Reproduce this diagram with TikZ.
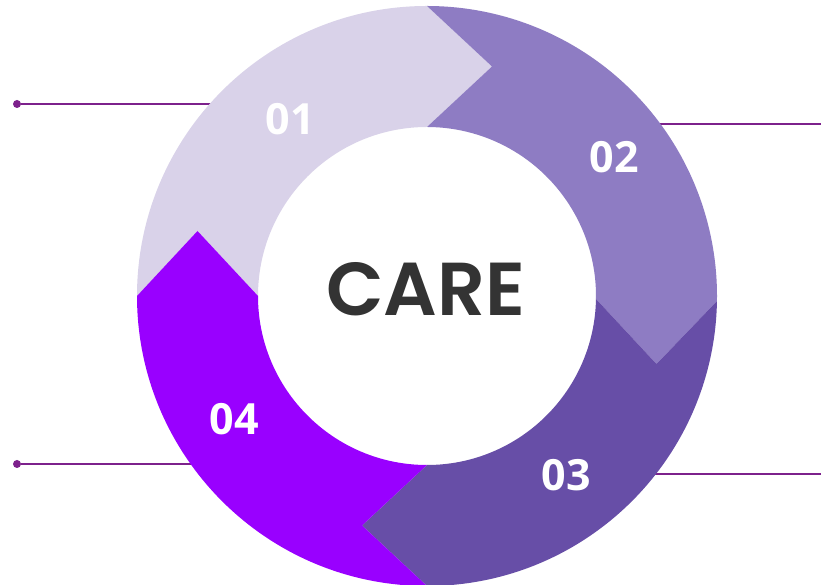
\documentclass[tikz,border=0pt]{standalone}
\usepackage{fontspec}
\setmainfont{Open Sans}
\newfontfamily\carefont{Poppins}[UprightFont={* SemiBold}]
\usetikzlibrary{calc}
\usetikzlibrary{positioning}
\definecolor{stepOne}{HTML}{D9D2E9}
\definecolor{stepTwo}{HTML}{8E7CC3}
\definecolor{stepThree}{HTML}{674EA7}
\definecolor{stepFour}{HTML}{9900FF}
\definecolor{leaderColor}{RGB}{125,33,140}
\definecolor{careColor}{HTML}{333333}

\begin{document}
\begin{tikzpicture}[x=1pt,y=1pt]
			\tikzstyle{leaderLine}=[draw=leaderColor, line width=1.8pt]
			\tikzstyle{leaderDot}=[circle, fill=leaderColor, inner sep=0pt, minimum size=8pt]
			\tikzstyle{stepLabel}=[text=white, anchor=base, font=\fontsize{43}{43}\selectfont\bfseries]
			\useasboundingbox[fill=white] (0,0) rectangle (821,585);
			\coordinate (center) at (427,289);

			% leader lines, drawn under the ring
			\node[leaderDot] at (17,481) (dotOne) {};
			\coordinate (endOne) at (250,481);
			\path[leaderLine] (dotOne) -- (endOne);

			\coordinate (startTwo) at (620,461);
			\coordinate (endTwo) at (821,461);
			\path[leaderLine] (startTwo) -- (endTwo);

			\coordinate (startThree) at (620,111);
			\coordinate (endThree) at (821,111);
			\path[leaderLine] (startThree) -- (endThree);

			\node[leaderDot] at (17,121) (dotFour) {};
			\coordinate (endFour) at (250,121);
			\path[leaderLine] (dotFour) -- (endFour);

			% arrow tips on the ring
			\coordinate (tipLeft) at ($(center)+(180:229.5pt)+(90:65pt)$);
			\coordinate (tipTop) at ($(center)+(90:229.5pt)+(0:65pt)$);
			\coordinate (tipRight) at ($(center)+(0:229.5pt)+(-90:68pt)$);
			\coordinate (tipBottom) at ($(center)+(-90:229.5pt)+(-180:65pt)$);

			\fill[stepOne] ($(center)+(180:290pt)$) arc[start angle=180, end angle=90, radius=290pt]
				-- (tipTop) -- ($(center)+(90:169pt)$) arc[start angle=90, end angle=180, radius=169pt]
				-- (tipLeft) -- cycle;
			\fill[stepTwo] ($(center)+(90:290pt)$) arc[start angle=90, end angle=-1, radius=290pt]
				-- (tipRight) -- ($(center)+(-1:169pt)$) arc[start angle=-1, end angle=90, radius=169pt]
				-- (tipTop) -- cycle;
			\fill[stepThree] ($(center)+(-1:290pt)$) arc[start angle=-1, end angle=-90, radius=290pt]
				-- (tipBottom) -- ($(center)+(-90:169pt)$) arc[start angle=-90, end angle=-1, radius=169pt]
				-- (tipRight) -- cycle;
			\fill[stepFour] ($(center)+(-90:290pt)$) arc[start angle=-90, end angle=-180, radius=290pt]
				-- (tipLeft) -- ($(center)+(-180:169pt)$) arc[start angle=-180, end angle=-90, radius=169pt]
				-- (tipBottom) -- cycle;

			\node[stepLabel] at (290,450) (labelOne) {01};
			\node[stepLabel] at (614,412) (labelTwo) {02};
			\node[stepLabel] at (566,94) (labelThree) {03};
			\node[stepLabel] at (234,150) (labelFour) {04};

			\node[anchor=base, text=careColor, font=\carefont\fontsize{75}{75}\selectfont] at (426,269) (care) {CARE};
		\end{tikzpicture}
\end{document}
